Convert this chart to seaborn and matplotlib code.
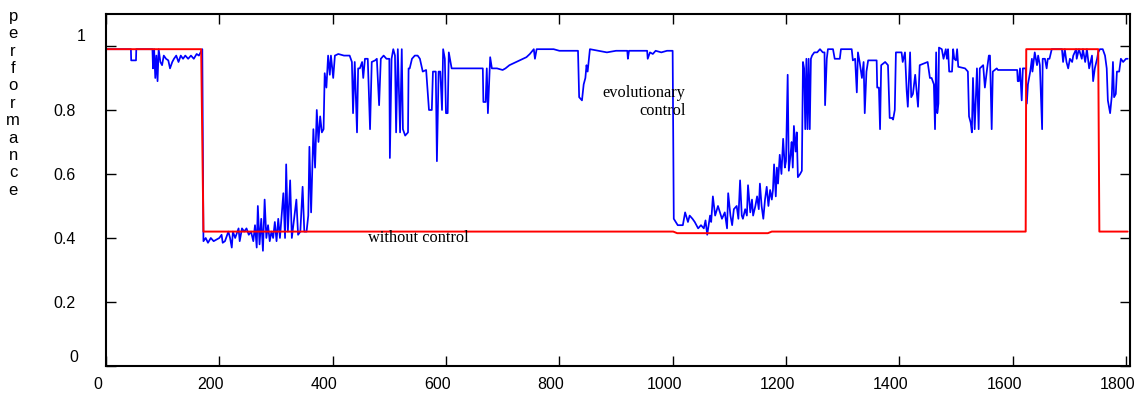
import matplotlib
matplotlib.use('Agg')
import pandas as pd
import seaborn as sns
from matplotlib import pyplot as plt
from matplotlib.transforms import ScaledTranslation

# red series: performance without control (step profile)
red_x = [0, 168, 172, 1001, 1008, 1168, 1175, 1623, 1624, 1751, 1753, 1803]
red_y = [0.99, 0.99, 0.42, 0.42, 0.415, 0.415, 0.42, 0.42, 0.99, 0.99, 0.42, 0.42]

# blue series: performance with evolutionary control
blue_x = [
    0, 44, 44.5, 53, 53.5, 82, 83, 85, 87, 89, 91, 93, 96, 99, 102, 106, 110, 113, 117, 120,
    124, 128, 132, 136, 140, 145, 150, 155, 160, 164, 167, 170,
    172, 176, 180, 185, 190, 195, 200, 204, 206, 210, 214, 216, 219, 222, 224, 228, 230, 234,
    236, 240, 244, 248, 252, 256, 260, 263, 266, 268, 271, 274, 277, 280, 283, 286, 289, 292,
    295, 298, 301, 304, 307, 310, 313, 316, 318, 321, 325, 328, 332, 336, 339, 343, 347, 350,
    354, 357, 359, 362, 366, 369, 372, 375, 378, 381, 384, 386, 389, 392,
    395, 397, 401, 404, 410, 420, 430, 434, 436, 439, 443, 445, 448, 452, 454, 457, 462, 466,
    469, 475, 478, 482, 485, 490, 495, 500, 501, 504, 507, 510, 512, 515, 519, 522, 524, 528,
    533, 534, 536, 540, 545, 550, 554, 559, 565, 570, 575, 577, 582, 584, 587, 590, 593, 595,
    598, 600, 603, 605, 610, 665, 666, 670, 672, 674, 678, 681, 690, 700, 705, 712, 718, 724,
    730, 736, 742, 748,
    755, 757, 760, 790, 800, 833, 835, 840, 843, 846, 848, 850, 854, 884, 900, 920, 921, 923,
    955, 956, 960, 965, 970, 980, 990, 1000, 1002,
    1009, 1018, 1022, 1027, 1030, 1035, 1039, 1045, 1050, 1055, 1058, 1061, 1066, 1068, 1071,
    1075, 1080, 1087, 1092, 1096, 1098, 1102, 1105, 1108, 1113, 1116, 1119, 1122, 1124, 1128,
    1131, 1133, 1137, 1140, 1142, 1146, 1149, 1152, 1154, 1157, 1160, 1163, 1166, 1169, 1172,
    1175, 1177, 1179, 1182, 1184, 1186, 1189, 1192, 1195, 1198, 1200, 1203, 1205, 1208, 1210,
    1212, 1214, 1217, 1219, 1221, 1225, 1228, 1230, 1232, 1234, 1236, 1238, 1240, 1242, 1244,
    1246, 1250, 1255, 1260, 1265, 1268, 1269, 1272, 1274, 1283, 1286, 1295, 1297, 1316, 1318,
    1322, 1325, 1327, 1330,
    1334, 1337, 1339, 1342, 1345, 1360, 1361, 1364, 1366, 1368, 1375, 1380, 1383, 1387, 1389,
    1392, 1394, 1401, 1404, 1406, 1410, 1413, 1415, 1419, 1421, 1424, 1428, 1433, 1436, 1450,
    1454, 1457, 1461, 1463, 1465, 1467, 1469, 1470, 1475, 1478, 1482, 1484, 1486, 1488, 1493,
    1495, 1497, 1500, 1502, 1504, 1516, 1521, 1523, 1526, 1528, 1530, 1533, 1537, 1540, 1542,
    1548, 1551, 1555, 1558, 1560, 1563, 1565, 1572, 1574, 1608,
    1609, 1611, 1613, 1616, 1618, 1623, 1625, 1627, 1631, 1634, 1635, 1639, 1643, 1645, 1648,
    1652, 1653, 1657, 1660, 1662, 1665, 1669, 1687, 1689, 1692, 1695, 1698, 1701, 1705, 1707,
    1712, 1713, 1717, 1722, 1724, 1728, 1731, 1735, 1740, 1742, 1745, 1749, 1751, 1754, 1759,
    1763, 1766, 1768, 1772, 1775, 1777, 1779, 1782, 1784, 1788, 1791, 1795, 1800, 1803,
]
blue_y = [
    .99, .99, .955, .955, .99, .99, .93, .99, .90, .97, .89, .99, .95, .94, .97, .96, .955, .93, .95, .96,
    .97, .95, .97, .96, .97, .96, .97, .96, .975, .97, .98, .99,
    .39, .40, .385, .40, .39, .395, .40, .41, .385, .39, .41, .42, .40, .37, .42, .40, .41, .43,
    .39, .43, .42, .43, .41, .42, .39, .44, .37, .50, .38, .46, .36, .52, .40, .44, .39, .42,
    .40, .45, .39, .46, .40, .47, .54, .40, .63, .42, .58, .40, .46, .52, .41, .42, .56, .42,
    .42, .47, .685, .48, .74, .62, .80, .70, .78, .73, .74, .915, .87, .97,
    .91, .97, .90, .97, .975, .97, .97, .95, .79, .95, .73, .93, .93, .95, .90, .96, .96, .74,
    .95, .955, .96, .815, .96, .97, .96, .96, .65, .96, .99, .97, .73, .99, .73, .99, .74, .72,
    .73, .93, .93, .96, .97, .97, .96, .92, .925, .80, .80, .92, .92, .64, .92, .92, .80, .99,
    .96, .79, .79, .98, .93, .93, .825, .825, .93, .79, .965, .93, .93, .925, .93, .94, .945, .95,
    .955, .96, .965, .975,
    .99, .96, .99, .99, .985, .985, .84, .83, .88, .90, .94, .92, .99, .98, .985, .985, .96, .985,
    .985, .96, .98, .975, .985, .98, .985, .985, .46,
    .44, .44, .48, .45, .47, .46, .45, .43, .44, .43, .455, .41, .47, .45, .53,
    .47, .50, .46, .48, .43, .54, .47, .44, .49, .50, .46, .58, .47, .46, .49,
    .47, .565, .48, .52, .47, .50, .53, .49, .57, .50, .46, .52, .56, .50, .55,
    .52, .55, .63, .53, .62, .57, .66, .60, .71, .62, .64, .91, .61, .66, .70,
    .62, .75, .67, .73, .59, .60, .61, .95, .93, .74, .96, .74, .96, .74, .96,
    .97, .98, .98, .99, .98, .98, .815, .96, .99, .99, .96, .96, .99, .99, .955,
    .96, .855, .98, .95,
    .90, .95, .79, .92, .955, .955, .87, .87, .74, .94, .95, .94, .775, .775, .77,
    .80, .98, .98, .98, .95, .98, .86, .81, .98, .84, .85, .91, .81, .94, .95,
    .90, .90, .88, .74, .98, .79, .82, .995, .99, .96, .99, .96, .99, .92, .92,
    .99, .96, .955, .99, .935, .93, .92, .78, .76, .73, .90, .74, .93, .74, .93,
    .94, .87, .93, .97, .97, .74, .92, .93, .925, .925,
    .89, .89, .93, .83, .93, .93, .82, .88, .92, .96, .92, .98, .94, .97, .94,
    .74, .96, .96, .93, .96, .96, .99, .99, .95, .99, .95, .93, .96, .95, .97,
    .99, .96, .99, .96, .99, .95, .99, .93, .97, .89, .93, .96, .98, .99, .99,
    .97, .93, .83, .79, .845, .95, .84, .85, .92, .92, .96, .95, .96, .96,
]

x_ticks = [0, 200, 400, 600, 800, 1000, 1200, 1400, 1600, 1800]
y_ticks = [0, 0.2, 0.4, 0.6, 0.8, 1.0]
y_tick_labels = ['0', '0.2', '0.4', '0.6', '0.8', '1']

red_df = pd.DataFrame({'t': red_x, 'performance': red_y})
blue_df = pd.DataFrame({'t': blue_x, 'performance': blue_y})

sns.set_theme(style='ticks')
plt.rcParams['font.family'] = ['Liberation Sans', 'DejaVu Sans']

fig = plt.figure(figsize=(11.37, 3.96), dpi=100)
ax = fig.add_axes([0.0932, 0.0758, 0.9006, 0.8889])

sns.lineplot(data=blue_df, x='t', y='performance', color='#0000ff', linewidth=1.25,
             estimator=None, sort=False, ax=ax)
sns.lineplot(data=red_df, x='t', y='performance', color='#ff0000', linewidth=1.4,
             estimator=None, sort=False, ax=ax)

ax.set_xlim(0, 1807)
ax.set_ylim(0, 1.1)
ax.set_xticks(x_ticks)
ax.set_yticks(y_ticks)
ax.set_yticklabels(y_tick_labels)
ax.set_xlabel('')
ax.set_ylabel('')

ax.tick_params(direction='in', length=7, width=1, color='black', labelsize=11.5,
               top=True, right=True, labelcolor='black')
ax.tick_params(axis='x', pad=8)
ax.tick_params(axis='y', pad=22)
for side in ['left', 'right', 'top', 'bottom']:
    ax.spines[side].set_color('black')
    ax.spines[side].set_linewidth(1.5)
    ax.spines[side].set_visible(True)

# gnuplot-like label offsets
for lab in ax.get_xticklabels():
    lab.set_transform(lab.get_transform() + ScaledTranslation(-6 / 72, 0, fig.dpi_scale_trans))
ylabs = ax.get_yticklabels()
ylabs[0].set_transform(ylabs[0].get_transform() + ScaledTranslation(3 / 100, 10 / 100, fig.dpi_scale_trans))
ylabs[-1].set_transform(ylabs[-1].get_transform() + ScaledTranslation(10 / 100, 11 / 100, fig.dpi_scale_trans))

fig.text(0.0115, 0.978, '\n'.join('performance'), fontsize=12, va='top', ha='center',
         linespacing=1.2, color='black')

ax.text(1023, 0.825, 'evolutionary\ncontrol', family=['Liberation Serif', 'DejaVu Serif'],
        fontsize=11.8, ha='right', va='center', multialignment='right', color='black')
ax.text(462, 0.40, 'without control', family=['Liberation Serif', 'DejaVu Serif'],
        fontsize=11.8, ha='left', va='center', color='black')

plt.savefig('out.png', dpi=100)
